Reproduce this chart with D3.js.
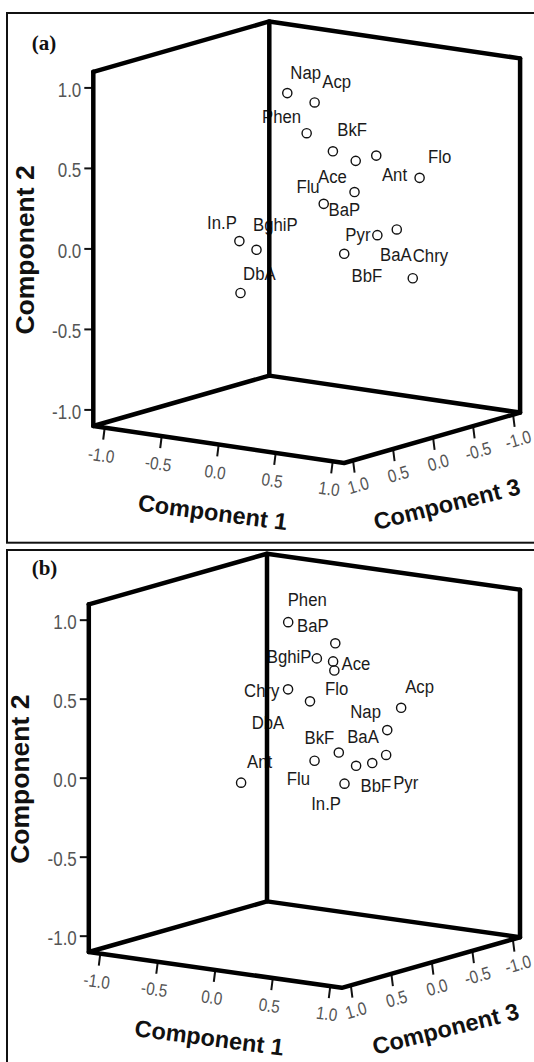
<!DOCTYPE html>
<html>
<head>
<meta charset="utf-8">
<script src="https://cdn.jsdelivr.net/npm/d3@7/dist/d3.min.js"></script>
<style>
  html, body { margin: 0; padding: 0; background: #fff; }
  svg { display: block; }
</style>
</head>
<body>
<svg id="chart" width="534" height="1062"></svg>
<script>
// ---------------- DATA ----------------
const axisDomain = [-1.1, 1.1];
const tickValues = [-1.0, -0.5, 0.0, 0.5, 1.0];
const tickLabels = ["-1.0", "-0.5", "0.0", "0.5", "1.0"];
const axisTitles = ["Component 1", "Component 2", "Component 3"];

// Panel (a)
const namesA = ["Nap","Acp","Phen","BkF","Ace","Ant","Flo","BaP","Flu","Pyr","BaA","BbF","Chry","In.P","BghiP","DbA"];
const comp1A = [-0.10, 0.28, 0.14, 0.30, 0.43, 0.54, 0.85, 0.63, 0.43, 0.69, 0.72, 0.68, 0.79, -0.38, -0.30, -0.30];
const comp2A = [ 0.93, 0.94, 0.72, 0.61, 0.55, 0.58, 0.46, 0.42, 0.34, 0.13, 0.14, 0.07, -0.17, 0.01, -0.05, -0.29];
const comp3A = [ 0.10, 0.30, 0.20, 0.10, 0.00, -0.10, -0.20, 0.30, 0.40, 0.10, -0.10, 0.50, -0.20, 0.30, 0.20, 0.40];

// Panel (b)
const namesB = ["Phen","BaP","BghiP","Ace","Flo","Chry","DbA","Acp","Nap","BaA","BkF","Flu","BbF","Pyr","In.P","Ant"];
const comp1B = [0.00, 0.48, 0.39, 0.32, 0.19, 0.21, 0.26, 0.63, 0.65, 0.44, 0.37, 0.52, 0.59, 0.57, 0.56, -0.48];
const comp2B = [0.97, 0.90, 0.81, 0.74, 0.64, 0.61, 0.51, 0.42, 0.31, 0.19, 0.16, 0.10, 0.11, 0.13, 0.02, -0.11];
const comp3B = [0.20, 0.30, 0.40, 0.10, -0.10, 0.50, 0.30, -0.30, -0.10, 0.20, 0.40, 0.10, 0.00, -0.20, 0.30, 0.10];

// ---------------- LAYOUT (label nudges, as in the figure) ----------------
const labelNudgeA = [[3,-14],[7.7,-14.4],[-44.6,-10],[4.4,-15.7],[-37.7,22.6],[5.7,25],[8.4,-15],[-26,24.4],
                     [-27.3,-10.7],[-32,6],[-16.7,31.7],[7.4,28.4],[0,-16.6],[-32.3,-11.7],[-3.4,-19],[2.6,-13.3]];
const labelNudgeB = [[-0.5,-16],[-38.3,-11.6],[-50,5],[8.4,9],[-9.3,25],[-44,7.4],[-58.3,27.3],[4,-14.4],
                     [-37,-11.7],[8.4,-10],[-10,-16.7],[-69.3,19.3],[-11.7,29.4],[7,34.3],[-33.3,26],[6,-15]];

const panels = [
  { tag: "(a)", names: namesA, c1: comp1A, c2: comp2A, c3: comp3A, nudge: labelNudgeA,
    origin: [306.7, 242.2], v1: [114, 16.8], v3: [-80, 22.9], vz: 161,
    frame: [7, 13, 540, 542.7], tagPos: [31.7, 50] },
  { tag: "(b)", names: namesB, c1: comp1B, c2: comp2B, c3: comp3B, nudge: labelNudgeB,
    origin: [304.4, 770.8], v1: [115, 16.3], v3: [-81, 23], vz: 158,
    frame: [7, 550, 540, 1075], tagPos: [31.7, 575] }
];

const svg = d3.select("#chart");
svg.append("rect").attr("width", 534).attr("height", 1062).attr("fill", "#fff");

const SANS = "'Liberation Sans', Arial, sans-serif";

panels.forEach(p => {
  const lo = axisDomain[0], hi = axisDomain[1];
  const k1 = d3.scaleLinear().domain(axisDomain).range([[lo * p.v1[0], lo * p.v1[1]], [hi * p.v1[0], hi * p.v1[1]]]);
  const k3 = d3.scaleLinear().domain(axisDomain).range([[lo * p.v3[0], lo * p.v3[1]], [hi * p.v3[0], hi * p.v3[1]]]);
  const k2 = d3.scaleLinear().domain(axisDomain).range([-lo * p.vz, -hi * p.vz]);
  const proj = (a, b, c) => {
    const q1 = k1(a); const x1 = q1[0], y1 = q1[1];
    const q3 = k3(c); const x3 = q3[0], y3 = q3[1];
    return [p.origin[0] + x1 + x3, p.origin[1] + y1 + y3 + k2(b)];
  };
  const g = svg.append("g");

  // frame
  const [fx0, fy0, fx1, fy1] = p.frame;
  g.append("rect").attr("x", fx0).attr("y", fy0).attr("width", fx1 - fx0).attr("height", fy1 - fy0)
    .attr("fill", "none").attr("stroke", "#111").attr("stroke-width", 2);

  g.append("text").attr("x", p.tagPos[0]).attr("y", p.tagPos[1])
    .attr("font-family", "'Liberation Serif', 'Times New Roman', serif").attr("font-weight", "bold")
    .attr("font-size", 21).attr("fill", "#111").text(p.tag);

  const ang1 = Math.atan2(p.v1[1], p.v1[0]) * 180 / Math.PI;
  const ang3 = Math.atan2(-p.v3[1], -p.v3[0]) * 180 / Math.PI;

  // Component 2 ticks (left vertical edge)
  tickValues.forEach((v, i) => {
    const [x, y] = proj(lo, v, hi);
    g.append("line").attr("x1", x - 9).attr("x2", x).attr("y1", y).attr("y2", y)
      .attr("stroke", "#111").attr("stroke-width", 2);
    g.append("text").attr("transform", `translate(${x - 12},${y + 9}) scale(0.87,1)`)
      .attr("text-anchor", "end").attr("font-family", SANS).attr("font-size", 19.5)
      .attr("fill", "#555").text(tickLabels[i]);
  });
  // Component 1 ticks (front-left floor edge)
  tickValues.forEach((v, i) => {
    const [x, y] = proj(v, lo, hi);
    g.append("line").attr("x1", x).attr("x2", x - 1.5).attr("y1", y).attr("y2", y + 12)
      .attr("stroke", "#111").attr("stroke-width", 2);
    g.append("text").attr("transform", `translate(${x - 3.5},${y + 27.3}) rotate(${ang1}) scale(0.85,1)`)
      .attr("text-anchor", "middle").attr("dy", "0.36em").attr("font-family", SANS).attr("font-size", 18)
      .attr("fill", "#555").text(tickLabels[i]);
  });
  // Component 3 ticks (front-right floor edge)
  tickValues.forEach((v, i) => {
    const [x, y] = proj(hi, lo, v);
    g.append("line").attr("x1", x + 1).attr("x2", x + 2.5).attr("y1", y).attr("y2", y + 12)
      .attr("stroke", "#111").attr("stroke-width", 2);
    g.append("text").attr("transform", `translate(${x + 6},${y + 24.5}) rotate(${ang3}) scale(0.85,1)`)
      .attr("text-anchor", "middle").attr("dy", "0.36em").attr("font-family", SANS).attr("font-size", 18)
      .attr("fill", "#555").text(tickLabels[i]);
  });

  // Axis titles
  const m1 = proj(0, lo, hi);
  g.append("text").attr("transform", `translate(${m1[0] - 6},${m1[1] + 68}) rotate(7.5)`)
    .attr("text-anchor", "middle").attr("dominant-baseline", "central")
    .attr("font-family", SANS).attr("font-weight", "bold").attr("font-size", 23.5)
    .attr("fill", "#111").text(axisTitles[0]);
  const m3 = proj(hi, lo, 0);
  g.append("text").attr("transform", `translate(${m3[0] + 14.7},${m3[1] + 66.5}) rotate(-14)`)
    .attr("text-anchor", "middle").attr("dominant-baseline", "central")
    .attr("font-family", SANS).attr("font-weight", "bold").attr("font-size", 23.5)
    .attr("fill", "#111").text(axisTitles[2]);
  const m2 = proj(lo, 0, hi);
  g.append("text").attr("transform", `translate(${m2[0] - 68.8},${m2[1] + 1}) rotate(-90)`)
    .attr("text-anchor", "middle").attr("dominant-baseline", "central")
    .attr("font-family", SANS).attr("font-weight", "bold").attr("font-size", 26.5)
    .attr("fill", "#111").text(axisTitles[1]);

  // Points + labels
  const pts = p.names.map((n, i) => ({ name: n, pos: proj(p.c1[i], p.c2[i], p.c3[i]), nudge: p.nudge[i] }));
  g.selectAll("circle.pt").data(pts).join("circle").attr("class", "pt")
    .attr("cx", d => d.pos[0]).attr("cy", d => d.pos[1]).attr("r", 4.6)
    .attr("fill", "none").attr("stroke", "#111").attr("stroke-width", 1.4);
  g.selectAll("text.lbl").data(pts).join("text").attr("class", "lbl")
    .attr("transform", d => `translate(${d.pos[0] + d.nudge[0]},${d.pos[1] + d.nudge[1]}) scale(0.9,1)`)
    .attr("font-family", SANS).attr("font-size", 18.6).attr("fill", "#1a1a1a").text(d => d.name);

  // Box (drawn last, over labels as in the figure)
  const line = d3.line();
  const box = g.append("g").attr("fill", "none").attr("stroke", "#000").attr("stroke-width", 4.5)
    .attr("stroke-linejoin", "round").attr("stroke-linecap", "round");
  box.append("path").attr("d", line([proj(lo, hi, hi), proj(lo, hi, lo), proj(hi, hi, lo)]));
  box.append("path").attr("d", line([proj(lo, lo, hi), proj(lo, hi, hi)]));
  box.append("path").attr("d", line([proj(lo, lo, lo), proj(lo, hi, lo)]));
  box.append("path").attr("d", line([proj(hi, lo, lo), proj(hi, hi, lo)]));
  box.append("path").attr("d", line([proj(lo, lo, hi), proj(lo, lo, lo), proj(hi, lo, lo), proj(hi, lo, hi)]) + "Z");
});
</script>
</body>
</html>
